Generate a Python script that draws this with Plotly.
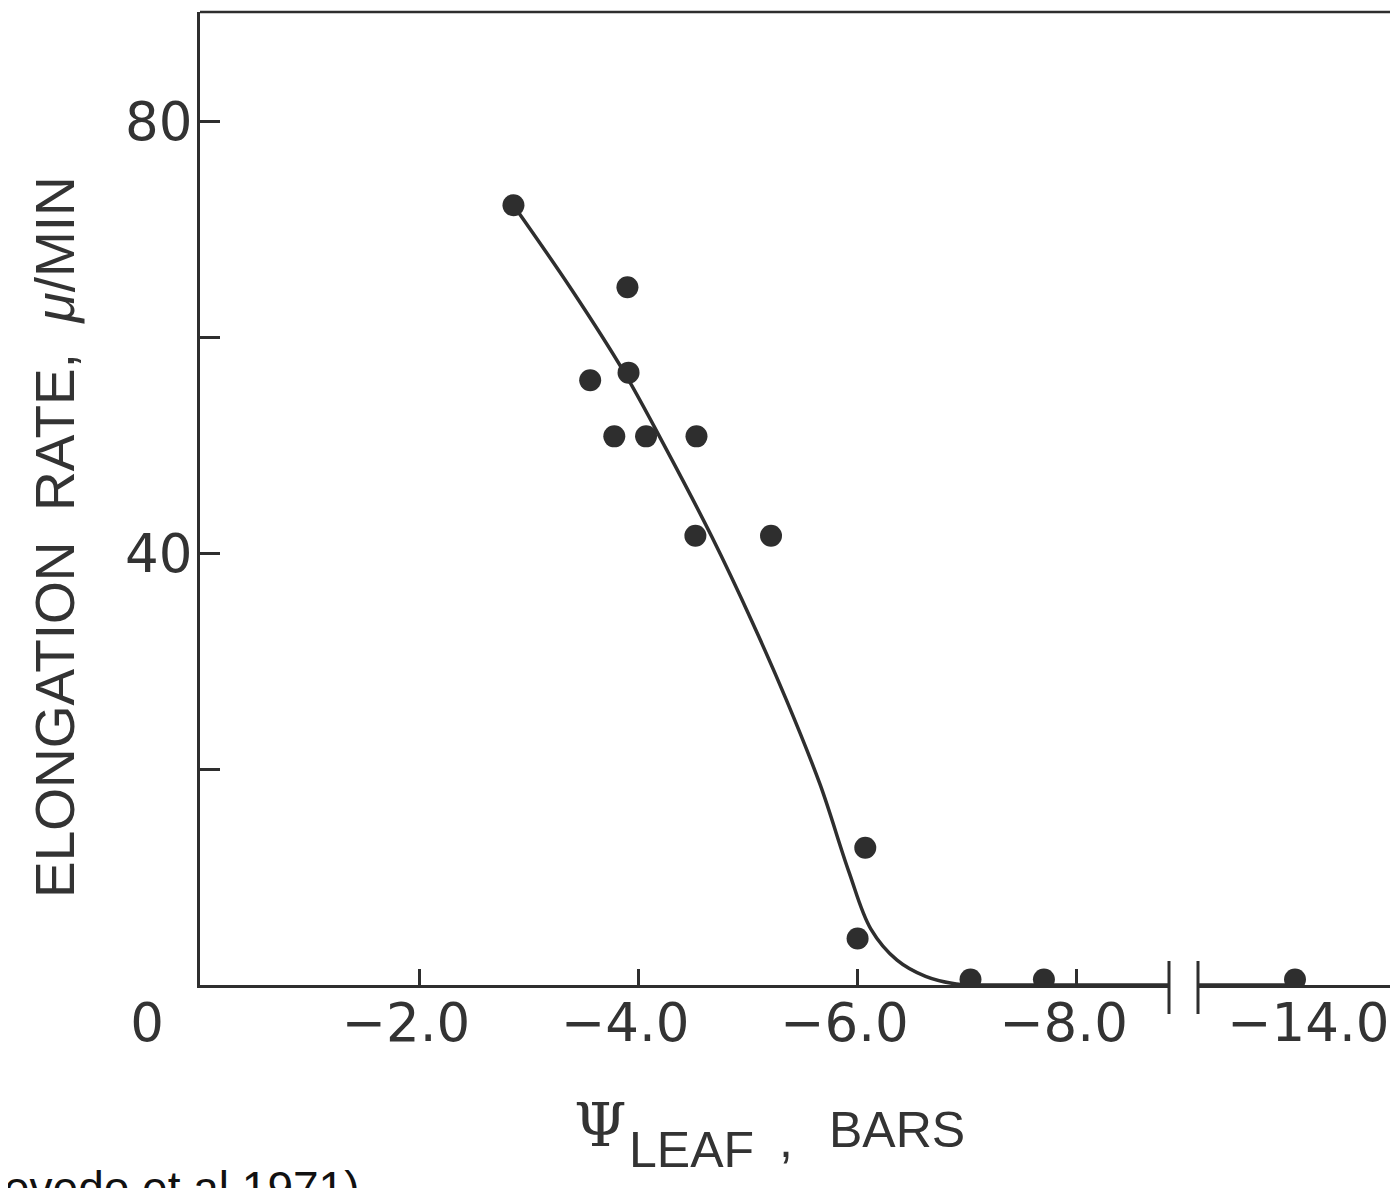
import plotly.graph_objects as go

# ---------------- data ----------------
psi_leaf = [-2.86, -3.90, -3.56, -3.91, -3.78, -4.07, -4.53, -4.52, -5.21, -6.07, -6.00, -7.03, -7.70]
elong_rate = [72.2, 64.6, 56.0, 56.7, 50.8, 50.8, 50.8, 41.6, 41.6, 12.7, 4.3, 0.5, 0.5]
psi_leaf_far = [-14.0]
elong_rate_far = [0.5]

curve_psi = [-2.86, -3.39, -3.86, -4.26, -4.67, -5.03, -5.35, -5.66, -5.92, -6.12,
             -6.36, -6.62, -6.90, -7.30, -7.80, -8.95]
curve_rate = [72.2, 64.4, 56.9, 49.5, 41.5, 33.8, 26.4, 18.5, 10.5, 5.2,
              2.3, 0.8, 0.1, 0.0, 0.0, 0.0]
curve_far_psi = [-13.0, -14.0]
curve_far_rate = [0.0, 0.0]

y_tick_vals = [20, 40, 60, 80]
y_tick_text = ["", "40", "", "80"]
x_tick_vals = [0, -2, -4, -6, -8]
x_tick_text = ["0", "−2.0", "−4.0", "−6.0", "−8.0"]
x_far_tick_vals = [-14]
x_far_tick_text = ["−14.0"]

# ---------------- layout geometry ----------------
# page has an 8px body margin, figure is sized to fill the rest of the window
W, H = 1390, 1180
ML, MR, MT, MB = 192, 0, 4, 203
PW, PH = W - ML - MR, H - MT - MB
PAGE_LEFT, PAGE_BOTTOM = 200, 985   # plot-area edges in page pixels
INK = "#2e2e2e"
TXT = "#333333"


def px_x(p):
    return (p - PAGE_LEFT) / PW


def px_y(p):
    return (PAGE_BOTTOM - p) / PH


PX_PER_BAR = 109.6
PX_PER_UNIT = 10.8
dom1_end = px_x(1169)
dom2_start = px_x(1198)
x1_range = [0, -(1169 - PAGE_LEFT) / PX_PER_BAR]
x2_range = [-14 + (1295 - 1198) / PX_PER_BAR, -14 - (1398 - 1295) / PX_PER_BAR]

tick_font = dict(family="DejaVu Sans", size=53, color=TXT)
PAD = "\u2002"

fig = go.Figure()

fig.add_trace(go.Scatter(
    x=curve_psi, y=curve_rate, mode="lines",
    line=dict(color=INK, width=3.5, shape="spline", smoothing=1.0),
    xaxis="x", yaxis="y", showlegend=False, hoverinfo="skip"))
fig.add_trace(go.Scatter(
    x=curve_far_psi, y=curve_far_rate, mode="lines",
    line=dict(color=INK, width=3.5),
    xaxis="x2", yaxis="y", showlegend=False, hoverinfo="skip"))
fig.add_trace(go.Scatter(
    x=psi_leaf, y=elong_rate, mode="markers",
    marker=dict(color=INK, size=22, line=dict(width=0)),
    xaxis="x", yaxis="y", showlegend=False))
fig.add_trace(go.Scatter(
    x=psi_leaf_far, y=elong_rate_far, mode="markers",
    marker=dict(color=INK, size=22, line=dict(width=0)),
    xaxis="x2", yaxis="y", showlegend=False))

x_text_main = [x_tick_text[0] + "\u2003\u2003"] + [t + PAD for t in x_tick_text[1:]]
x_text_far = ["\u2002" + t for t in x_far_tick_text]

fig.update_layout(
    width=W, height=H,
    margin=dict(l=ML, r=MR, t=MT, b=MB, pad=0),
    paper_bgcolor="white", plot_bgcolor="white",
    xaxis=dict(domain=[0, dom1_end], range=x1_range, anchor="y",
               showline=True, linecolor=INK, linewidth=3,
               showgrid=False, zeroline=False,
               ticks="inside", ticklen=16, tickwidth=3, tickcolor=INK,
               tickvals=x_tick_vals, ticktext=x_text_main,
               tickfont=tick_font, ticklabelstandoff=-11),
    xaxis2=dict(domain=[dom2_start, 1], range=x2_range, anchor="y",
                showline=True, linecolor=INK, linewidth=3,
                showgrid=False, zeroline=False, ticks="",
                tickvals=x_far_tick_vals, ticktext=x_text_far,
                tickfont=tick_font, ticklabelstandoff=-11),
    yaxis=dict(range=[0, PH / PX_PER_UNIT], anchor="x",
               showline=True, linecolor=INK, linewidth=3,
               showgrid=False, zeroline=False,
               ticks="inside", ticklen=20, tickwidth=3, tickcolor=INK,
               tickvals=y_tick_vals, ticktext=y_tick_text,
               tickfont=tick_font, ticklabelstandoff=-6),
    showlegend=False,
)

# top frame line
fig.add_shape(type="line", xref="paper", yref="paper", x0=0, x1=1, y0=1, y1=1,
              line=dict(color=INK, width=2.5))
# axis break marks
for bx in (dom1_end, dom2_start):
    fig.add_shape(type="line", xref="paper", yref="paper",
                  x0=bx, x1=bx, y0=px_y(1014), y1=px_y(961),
                  line=dict(color=INK, width=3))

# axis titles
fig.add_annotation(xref="paper", yref="paper", x=px_x(55), y=px_y(537),
                   text="ELONGATION\u00a0 RATE,\u00a0 <i>μ</i>/MIN", textangle=-90,
                   showarrow=False, xanchor="center", yanchor="middle",
                   font=dict(family="Liberation Sans", size=55, color=TXT))
fig.add_annotation(xref="paper", yref="paper", x=px_x(600), y=px_y(1125),
                   text="Ψ", showarrow=False, xanchor="center", yanchor="middle",
                   font=dict(family="DejaVu Serif", size=60, color=TXT))
fig.add_annotation(xref="paper", yref="paper", x=px_x(691), y=px_y(1150),
                   text="LEAF", showarrow=False, xanchor="center", yanchor="middle",
                   font=dict(family="Liberation Sans", size=50, color=TXT))
fig.add_annotation(xref="paper", yref="paper", x=px_x(786), y=px_y(1140),
                   text=",", showarrow=False, xanchor="center", yanchor="middle",
                   font=dict(family="Liberation Sans", size=50, color=TXT))
fig.add_annotation(xref="paper", yref="paper", x=px_x(897), y=px_y(1130),
                   text="BARS", showarrow=False, xanchor="center", yanchor="middle",
                   font=dict(family="Liberation Sans", size=50, color=TXT))
# citation (partly outside the page, as in the reference)
fig.add_annotation(xref="paper", yref="paper", x=px_x(362), y=px_y(1160),
                   text="(Acevedo et al 1971)", showarrow=False,
                   xanchor="right", yanchor="top",
                   font=dict(family="Liberation Sans", size=46, color="#111111"))

fig.write_html("out.html")
